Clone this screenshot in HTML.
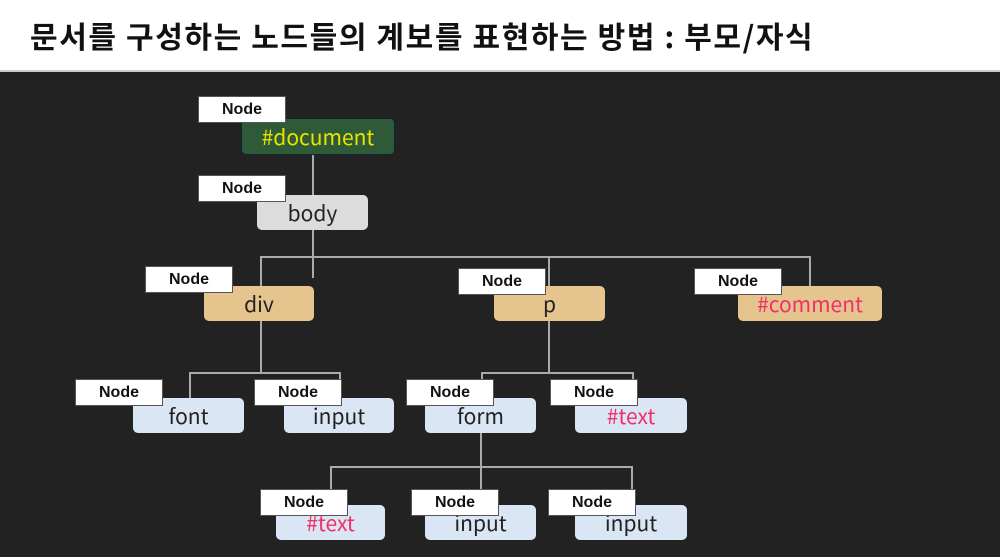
<!DOCTYPE html>
<html><head><meta charset="utf-8"><style>
body{margin:0;width:1000px;height:557px;overflow:hidden;background:#222;position:relative;font-family:"Liberation Sans","Noto Sans CJK KR",sans-serif}
#hdr{position:absolute;left:0;top:0;width:1000px;height:70px;background:#fff;border-bottom:2px solid #ccc}
#title{position:absolute;left:30px;top:13px;font-size:30px;font-weight:bold;letter-spacing:1.6px;color:#111;white-space:nowrap;font-family:"Noto Sans CJK KR",sans-serif}
.b{position:absolute;height:35px;border-radius:5px;text-align:center;line-height:36px;font-size:21px;color:#222;font-family:"Noto Sans CJK KR","Liberation Sans",sans-serif}
.n{position:absolute;width:86px;height:25px;background:#fff;border:1px solid #555;text-align:center;line-height:25px;font-size:16px;font-weight:bold;color:#111}
.blue{background:#dbe6f4}
.tan{background:#e6c48e}
.pk{color:#f0306a}
.l{position:absolute;background:#aaa}
</style></head><body>
<div id="hdr"><div id="title">문서를 구성하는 노드들의 계보를 표현하는 방법 : 부모/자식</div></div>

<div class="l" style="left:312px;top:153px;width:2px;height:42px"></div>
<div class="l" style="left:312px;top:230px;width:2px;height:48px"></div>
<div class="l" style="left:260px;top:256px;width:551px;height:2px"></div>
<div class="l" style="left:260px;top:256px;width:2px;height:30px"></div>
<div class="l" style="left:548px;top:256px;width:2px;height:30px"></div>
<div class="l" style="left:809px;top:256px;width:2px;height:30px"></div>
<div class="l" style="left:260px;top:321px;width:2px;height:51px"></div>
<div class="l" style="left:189px;top:372px;width:152px;height:2px"></div>
<div class="l" style="left:189px;top:372px;width:2px;height:26px"></div>
<div class="l" style="left:339px;top:372px;width:2px;height:26px"></div>
<div class="l" style="left:548px;top:321px;width:2px;height:51px"></div>
<div class="l" style="left:481px;top:372px;width:153px;height:2px"></div>
<div class="l" style="left:481px;top:372px;width:2px;height:26px"></div>
<div class="l" style="left:632px;top:372px;width:2px;height:26px"></div>
<div class="l" style="left:480px;top:433px;width:2px;height:72px"></div>
<div class="l" style="left:330px;top:466px;width:303px;height:2px"></div>
<div class="l" style="left:330px;top:466px;width:2px;height:30px"></div>
<div class="l" style="left:631px;top:466px;width:2px;height:30px"></div>

<div class="b" style="left:241px;top:118px;width:152px;background:#2e5a38;color:#e8e400;border:1px solid #123">#document</div>
<div class="n" style="left:198px;top:96px">Node</div>
<div class="b" style="left:257px;top:195px;width:111px;background:#dcdcdc">body</div>
<div class="n" style="left:198px;top:175px">Node</div>

<div class="b tan" style="left:204px;top:286px;width:110px">div</div>
<div class="n" style="left:145px;top:266px">Node</div>
<div class="b tan" style="left:494px;top:286px;width:111px">p</div>
<div class="n" style="left:458px;top:268px">Node</div>
<div class="b tan pk" style="left:738px;top:286px;width:144px">#comment</div>
<div class="n" style="left:694px;top:268px">Node</div>

<div class="b blue" style="left:133px;top:398px;width:111px">font</div>
<div class="n" style="left:75px;top:379px">Node</div>
<div class="b blue" style="left:284px;top:398px;width:110px">input</div>
<div class="n" style="left:254px;top:379px">Node</div>
<div class="b blue" style="left:425px;top:398px;width:111px">form</div>
<div class="n" style="left:406px;top:379px">Node</div>
<div class="b blue pk" style="left:575px;top:398px;width:112px">#text</div>
<div class="n" style="left:550px;top:379px">Node</div>

<div class="b blue pk" style="left:276px;top:505px;width:109px">#text</div>
<div class="n" style="left:260px;top:489px">Node</div>
<div class="b blue" style="left:425px;top:505px;width:111px">input</div>
<div class="n" style="left:411px;top:489px">Node</div>
<div class="b blue" style="left:575px;top:505px;width:112px">input</div>
<div class="n" style="left:548px;top:489px">Node</div>
</body></html>
